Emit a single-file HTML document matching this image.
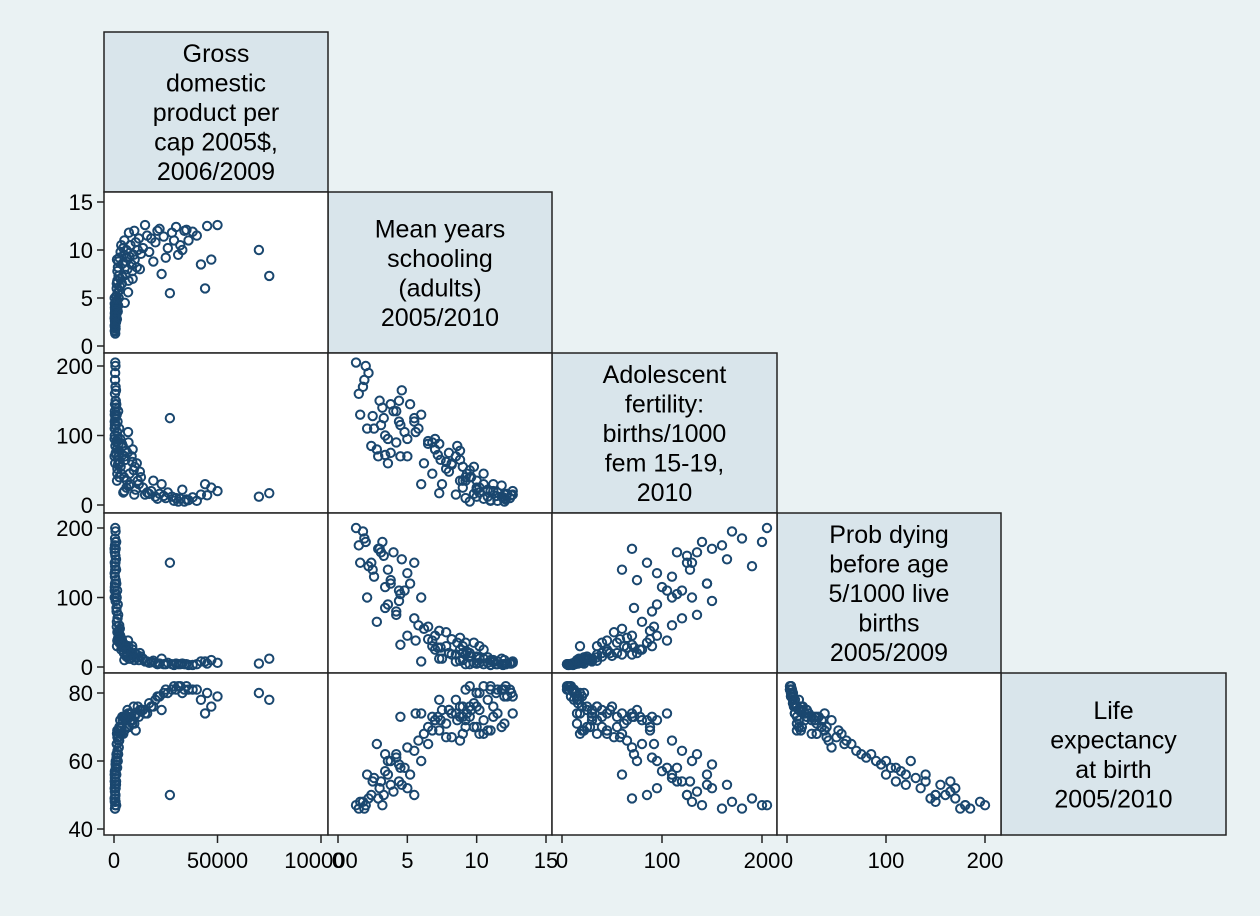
<!DOCTYPE html>
<html><head><meta charset="utf-8"><style>
html,body{margin:0;padding:0;background:#eaf2f3;}
svg{display:block;font-family:"Liberation Sans",Arial,sans-serif;}
</style></head><body>
<svg id="chart" width="1260" height="916" viewBox="0 0 1260 916" xmlns="http://www.w3.org/2000/svg">
<rect x="0" y="0" width="1260" height="916" fill="#eaf2f3"/>
<g id="g"></g>
</svg>
<script>
// Country data: gdp, schooling, fertility, mortality, life expectancy
const gdp = [30000,35000,40000,45000,50000,28000,32000,36000,33000,31000,38000,42000,47000,44000,22000,24000,26000,25000,20000,21000,18000,17000,27000,70000,75000,23000,29000,34000,19000,15000,16000,14000,13000,12000,11000,
10000,9000,8500,8000,7500,7000,6500,6000,5500,5000,9500,7200,6200,5800,8800,10500,4800,4500,4200,4000,3800,3500,3200,3000,2800,12500,11500,9800,6800,5200,
2500,2300,2200,2000,1900,1800,1700,1600,1500,1400,1300,1200,1100,1000,900,2600,2100,1650,1450,1350,
800,750,700,650,600,550,500,480,450,420,400,380,360,340,320,300,850,950,1050,780,680,580,520,460,1250];
const school = [12.4,12.1,11.5,12.5,12.6,11.8,10.5,11.0,10.0,9.5,11.9,8.5,9.0,6.0,12.2,11.4,10.2,9.2,10.8,12.0,11.2,9.8,5.5,10.0,7.3,7.5,11.0,12.0,8.8,12.6,11.5,10.2,9.6,11.2,8.2,
9.0,7.0,8.5,10.5,9.3,6.8,8.0,10.0,7.4,11.0,9.5,11.8,9.2,8.8,7.8,10.8,9.5,10.2,8.6,7.2,6.5,10.5,9.8,7.0,6.2,8.0,10.0,12.0,5.6,4.5,
5.8,5.0,7.3,4.2,8.2,3.6,5.5,6.8,4.8,2.8,6.0,3.4,5.2,2.5,4.5,9.2,8.8,7.8,9.0,6.5,
3.0,1.8,2.0,3.3,1.3,2.2,3.8,1.5,2.6,4.0,3.4,1.6,4.4,2.1,5.0,2.9,3.8,4.6,3.2,4.4,2.4,3.6,1.9,3.1,4.2];
const fert = [10,8,6,14,20,12,9,7,22,5,11,15,25,30,16,13,18,10,12,9,20,16,125,12,17,30,6,5,35,15,18,25,40,30,60,
55,80,70,30,45,90,75,25,65,20,50,28,35,78,62,22,40,18,85,72,88,45,55,95,60,48,35,15,105,70,
110,70,88,135,58,95,120,45,105,80,130,72,145,128,115,40,65,52,35,92,
150,170,200,125,205,190,145,160,110,135,100,130,120,110,95,70,75,165,140,150,85,60,180,115,90];
const mort = [5,4,4,5,6,4,4,3,5,4,3,8,10,8,5,4,6,4,6,4,7,6,150,5,12,12,3,4,9,8,8,12,15,10,18,
20,25,18,12,22,30,20,15,28,10,16,12,18,25,30,14,20,30,35,28,40,25,35,45,55,20,14,10,38,32,
60,45,52,75,40,90,70,38,110,65,100,85,120,140,105,35,42,50,30,58,
170,195,180,160,200,145,120,175,130,165,115,150,110,100,135,170,125,155,180,95,150,140,185,165,80];
const life = [81,82,81,80,79,81,82,81,80,82,81,78,76,74,79,80,80,81,78,79,76,77,50,80,78,75,82,81,76,74,74,75,75,73,74,
73,72,74,72,74,73,75,70,72,69,76,70,72,73,71,69,73,68,72,73,70,68,70,72,68,75,76,71,74,73,
66,64,69,62,67,60,63,69,58,65,60,62,56,54,58,70,66,67,68,65,
52,48,47,50,47,49,53,46,55,51,57,48,54,56,52,49,60,53,47,59,50,56,46,54,61];
const vars = [gdp, school, fert, mort, life];
const varLabels = [
 ["Gross","domestic","product per","cap 2005$,","2006/2009"],
 ["Mean years","schooling","(adults)","2005/2010"],
 ["Adolescent","fertility:","births/1000","fem 15-19,","2010"],
 ["Prob dying","before age","5/1000 live","births","2005/2009"],
 ["Life","expectancy","at birth","2005/2010"]];
const ticksX = [[0,50000,100000],[0,5,10,15],[0,100,200],[0,100,200]];
const tickLabelsX = [["0","50000","100000"],["0","5","10","15"],["0","100","200"],["0","100","200"]];
const ticksY = [[0,5,10,15],[0,100,200],[0,100,200],[40,60,80]];
const tickLabelsY = [["0","5","10","15"],["0","100","200"],["0","100","200"],["40","60","80"]];

const colE = [104,328,552,777,1001,1226];
const rowE = [32,192,353,513,673,835];
const xMap = [[0,114,100000,321],[0,338,15,546],[0,562,200,762],[0,787,200,985]];
const yMap = [null,[0,346,15,202],[0,505,200,366],[0,667,200,528],[40,829,80,693]];
function ax(v,m){return m[1]+(v-m[0])*(m[3]-m[1])/(m[2]-m[0]);}
const NS="http://www.w3.org/2000/svg";
const g=document.getElementById('g');
function mk(t,a,p){const e=document.createElementNS(NS,t);for(const k in a)e.setAttribute(k,a[k]);(p||g).appendChild(e);return e;}

for(let i=0;i<5;i++){
  const b=mk('rect',{x:colE[i],y:rowE[i],width:colE[i+1]-colE[i],height:rowE[i+1]-rowE[i],fill:'#d9e5eb',stroke:'#222',"stroke-width":1.5});
  
  
  const L=varLabels[i], cx=(colE[i]+colE[i+1])/2, cy=(rowE[i]+rowE[i+1])/2;
  const lh=29.5, y0=cy-(L.length-1)*lh/2+9;
  L.forEach((s,k)=>{const t=mk('text',{x:cx,y:y0+k*lh,"text-anchor":"middle","font-size":25,fill:'#000'});t.textContent=s;
    
    });
  for(let j=0;j<i;j++){
    const pg=mk('g',{});
    
    
    const r=mk('rect',{x:colE[j],y:rowE[i],width:colE[j+1]-colE[j],height:rowE[i+1]-rowE[i],fill:'#fff',stroke:'#222',"stroke-width":1.5},pg);
    
    
    const xs=vars[j], ys=vars[i];
    for(let k=0;k<xs.length;k++){
      const c=mk('circle',{cx:ax(xs[k],xMap[j]),cy:ax(ys[k],yMap[i]),r:4.2,fill:'none',stroke:'#1a476f',"stroke-width":2},pg);
      
      
    }
  }
}
for(let i=1;i<5;i++){
  ticksY[i-1].forEach((v,k)=>{const y=ax(v,yMap[i]);
    const l=mk('line',{x1:97,x2:104,y1:y,y2:y,stroke:'#222',"stroke-width":1.5});
    
    
    const t=mk('text',{x:93,y:y+8,"text-anchor":"end","font-size":22});t.textContent=tickLabelsY[i-1][k];
    
    });
}
for(let j=0;j<4;j++){
  ticksX[j].forEach((v,k)=>{const x=ax(v,xMap[j]);
    const l=mk('line',{x1:x,x2:x,y1:835,y2:843,stroke:'#222',"stroke-width":1.5});
    
    
    const t=mk('text',{x:x,y:868,"text-anchor":"middle","font-size":22});t.textContent=tickLabelsX[j][k];
    
    });
}
</script>
</body></html>
